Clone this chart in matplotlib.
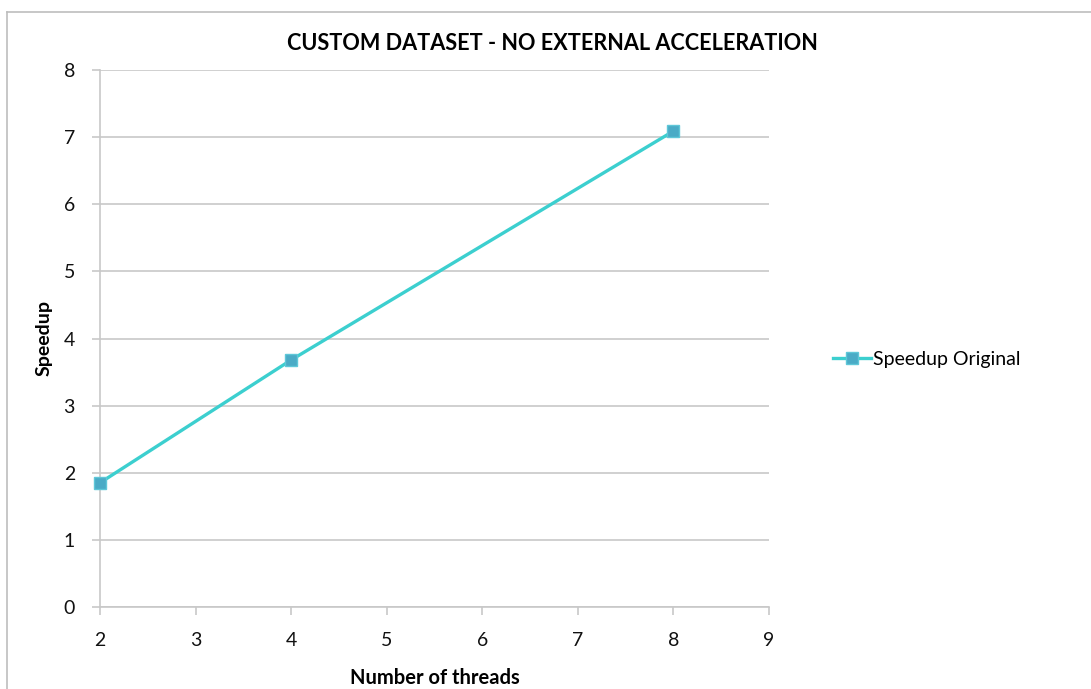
import matplotlib.pyplot as plt
from matplotlib.lines import Line2D

threads = [2, 4, 8]
speedup = [1.85, 3.68, 7.09]
x_ticks = [2, 3, 4, 5, 6, 7, 8, 9]
y_ticks = [0, 1, 2, 3, 4, 5, 6, 7, 8]

plt.rcParams['font.family'] = ['Lato', 'DejaVu Sans']

fig = plt.figure(figsize=(10.91, 6.89), dpi=100)
ax = fig.add_axes([100 / 1091, 82 / 689, 669 / 1091, 537 / 689])

grid_col = '#c8c8c8'
ax.set_xlim(2, 9)
ax.set_ylim(0, 8)
ax.set_xticks(x_ticks)
ax.set_yticks(y_ticks)
ax.yaxis.grid(True, color=grid_col, linewidth=1.2)
ax.set_axisbelow(True)
for s in ['top', 'right']:
    ax.spines[s].set_visible(False)
for s in ['left', 'bottom']:
    ax.spines[s].set_color(grid_col)
    ax.spines[s].set_linewidth(1.2)
ax.tick_params(axis='both', colors=grid_col, length=6, width=1.2,
               labelcolor='#111111', labelsize=14)
ax.tick_params(axis='x', pad=12)
ax.tick_params(axis='y', pad=12)

line_col = '#3ccfcf'
marker_face = '#4aabc6'
ax.plot(threads, speedup, color=line_col, linewidth=2.4, marker='s',
        markersize=8, markerfacecolor=marker_face, markeredgecolor='#5fc7d8',
        markeredgewidth=1, clip_on=False, zorder=5)

fig.text(552 / 1091, 1 - 44 / 689, 'CUSTOM DATASET - NO EXTERNAL ACCELERATION',
         fontsize=15.6, fontweight='bold', ha='center', va='center')
ax.set_xlabel('Number of threads', fontsize=14.5, fontweight='bold', labelpad=14)
ax.set_ylabel('Speedup', fontsize=14, fontweight='bold', labelpad=8)

handle = Line2D([], [], color=line_col, linewidth=2.4, marker='s', markersize=8,
                markerfacecolor=marker_face, markeredgecolor='#5fc7d8')
fig.legend(handles=[handle], labels=['Speedup Original'], loc='center left',
           bbox_to_anchor=(815 / 1091, 1 - 359 / 689), frameon=False,
           fontsize=14, handlelength=2.0, handletextpad=0.1)

# outer chart frame (top and left edges)
fig.add_artist(Line2D([7 / 1091, 7 / 1091], [0, 1 - 12 / 689],
                      transform=fig.transFigure, color='#bdbdbd', linewidth=1.2))
fig.add_artist(Line2D([7 / 1091, 1], [1 - 12 / 689, 1 - 12 / 689],
                      transform=fig.transFigure, color='#bdbdbd', linewidth=1.2))

fig.savefig('out.png', dpi=100)
